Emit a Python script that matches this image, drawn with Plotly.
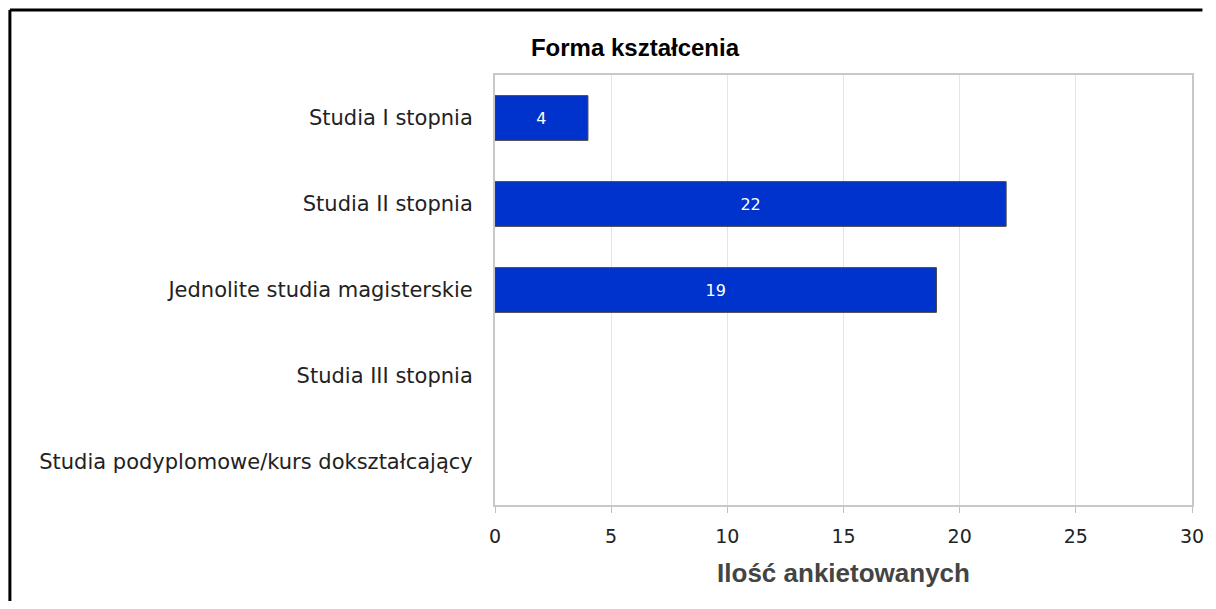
import plotly.graph_objects as go

categories = [
    "Studia I stopnia",
    "Studia II stopnia",
    "Jednolite studia magisterskie",
    "Studia III stopnia",
    "Studia podyplomowe/kurs dokształcający",
]
counts = [4, 22, 19, 0, 0]
x_ticks = [0, 5, 10, 15, 20, 25, 30]

labels = [str(v) if v else "" for v in counts]
outline = [1 if v else 0 for v in counts]

fig = go.Figure()
fig.add_trace(
    go.Bar(
        y=categories,
        x=counts,
        orientation="h",
        text=labels,
        textposition="inside",
        insidetextanchor="middle",
        textfont=dict(color="white", size=16, family="DejaVu Sans"),
        marker=dict(color="#0033cc", line=dict(color="#444444", width=outline)),
        hoverinfo="x+y",
    )
)

# page body adds an 8px margin on each side, so the figure is shrunk to fit
fig.update_layout(
    width=1200,
    height=593,
    paper_bgcolor="white",
    plot_bgcolor="white",
    margin=dict(l=487, r=16, t=67, b=96),
    bargap=0.48,
    showlegend=False,
    title=dict(
        text="<b>Forma kształcenia</b>",
        x=0.5225,
        xref="container",
        xanchor="center",
        y=0.934,
        yref="container",
        yanchor="middle",
        font=dict(family="Liberation Sans, Arial, sans-serif", size=24, color="black"),
    ),
    font=dict(family="DejaVu Sans", size=20, color="#222222"),
)

fig.update_xaxes(
    range=[0, 30],
    tickvals=x_ticks,
    automargin=False,
    showgrid=True,
    gridcolor="#e4e4e4",
    gridwidth=1,
    showline=True,
    linecolor="#c8c8c8",
    linewidth=2,
    mirror=True,
    ticks="outside",
    ticklen=6,
    tickcolor="#c0c0c0",
    ticklabelstandoff=7,
    zeroline=False,
    tickfont=dict(family="DejaVu Sans", size=19, color="#222222"),
    title=dict(
        text="<b>Ilość ankietowanych</b>",
        standoff=18,
        font=dict(family="Liberation Sans, Arial, sans-serif", size=26, color="#444444"),
    ),
)

fig.update_yaxes(
    autorange="reversed",
    automargin=False,
    showgrid=False,
    showline=True,
    linecolor="#c8c8c8",
    linewidth=2,
    mirror=True,
    ticks="",
    ticklabelstandoff=16,
    tickfont=dict(family="DejaVu Sans", size=21, color="#222222"),
)

# black frame, only top and left edges visible in the crop
frame = dict(color="black", width=3)
fig.add_shape(type="line", xref="paper", yref="paper",
              x0=-0.696, x1=1.015, y0=1.151, y1=1.151, line=frame)
fig.add_shape(type="line", xref="paper", yref="paper",
              x0=-0.696, x1=-0.696, y0=-0.223, y1=1.151, line=frame)

fig.write_html("out.html")
